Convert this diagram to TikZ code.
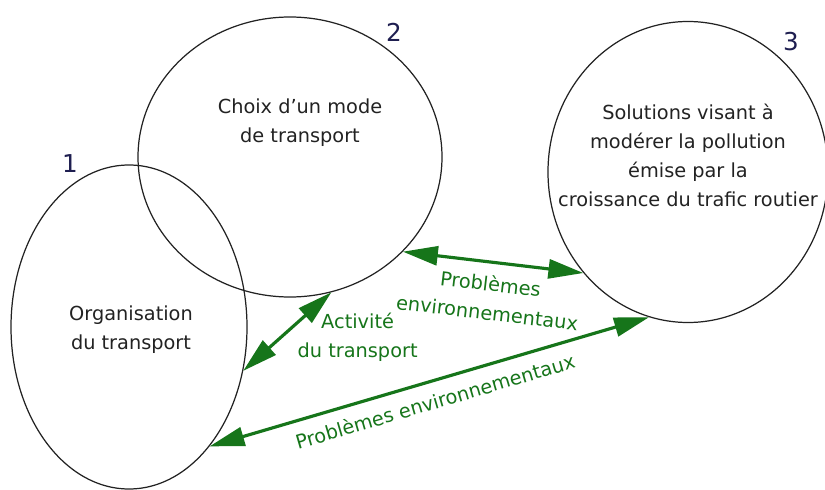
\documentclass[tikz,border=0pt]{standalone}
\usepackage{fontspec}
\setmainfont{DejaVu Sans}
\usetikzlibrary{arrows.meta,shapes.geometric}
\definecolor{Ink}{HTML}{222222}
\definecolor{Navy}{HTML}{1E1E50}
\definecolor{Leaf}{HTML}{16751A}
\tikzset{
  zone/.style={ellipse, draw=Ink, line width=0.7pt, inner sep=0pt},
  txt/.style={align=center, font=\fontsize{11}{16.5}\selectfont, text=Ink},
  num/.style={font=\fontsize{14}{16}\selectfont, text=Navy, inner sep=0pt},
  link/.style={{Triangle[length=7mm,width=3.8mm]}-{Triangle[length=7mm,width=3.8mm]},
               line width=1.8pt, draw=Leaf},
  lbl/.style={txt, text=Leaf},
}

\begin{document}
\begin{tikzpicture}[x=0.2mm, y=-0.2mm]
  \useasboundingbox (0,0) rectangle (825,490);
  % the three fields
  \node[zone, minimum width=47.2mm, minimum height=64.8mm] (c1) at (129,327) {};
  \node[zone, minimum width=60.8mm, minimum height=56mm] (c2) at (290,157) {};
  \node[zone, minimum width=56mm, minimum height=60.2mm] (c3) at (688,172) {};
  \node[txt] (t1) at (131,330) {Organisation\\du transport};
  \node[txt] (t2) at (300,123) {Choix d’un mode\\de transport};
  \node[txt] (t3) at (688,155) {Solutions visant à\\modérer la pollution\\émise par la\\croissance du trafic routier};
  \node[num] (n1) at (70,164) {1};
  \node[num] (n2) at (394,32) {2};
  \node[num] (n3) at (791,42) {3};
  % links
  \draw[link] (c2.-40) -- (c3.224)
    node[midway, sloped, below=1.2mm, lbl] (la) {Problèmes\\environnementaux};
  \draw[link] (c2.-73.5) -- (c1.-21)
    node[pos=0.575, right=1.9mm, lbl] (lb) {Activité\\du transport};
  \draw[link] (c3.255.4) -- (c1.-56)
    node[midway, sloped, below=1mm, lbl] (lc) {Problèmes environnementaux};
\end{tikzpicture}
\end{document}
